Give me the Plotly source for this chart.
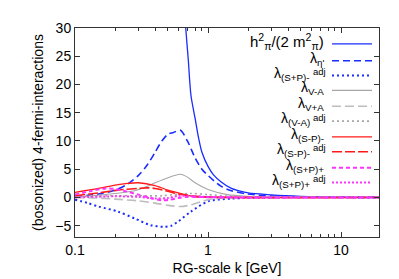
import numpy as np
import plotly.graph_objects as go

# ---- data ----
k_h = [0.6, 0.65, 0.68, 0.71, 0.745, 0.8, 0.85, 0.9, 1.0, 1.1, 1.25, 1.5, 1.7, 2.0, 3.0, 5.0, 10.0, 20.0]
v_h = [50, 37, 30, 24.5, 18, 14, 10.5, 8, 5.5, 4.0, 2.8, 1.6, 1.2, 0.8, 0.45, 0.2, 0.05, 0.02]

k_eta = [0.1, 0.15, 0.2, 0.25, 0.3, 0.35, 0.4, 0.45, 0.5, 0.55, 0.62, 0.7, 0.8, 0.9, 1.0, 1.25, 1.5, 2.0, 3.0, 5.0, 10.0, 20.0]
v_eta = [0.2, 0.6, 1.3, 2.4, 3.9, 5.8, 8.0, 10.0, 11.2, 11.5, 11.9, 10.0, 7.0, 5.0, 3.9, 2.0, 1.2, 0.6, 0.25, 0.1, 0.03, 0.01]

k_spm_adj = [0.1, 0.125, 0.15, 0.21, 0.28, 0.37, 0.47, 0.53, 0.6, 0.745, 1.0, 1.5, 3.0, 20.0]
v_spm_adj = [-0.4, -1.0, -1.6, -2.5, -3.7, -4.9, -5.2, -5.0, -4.2, -2.5, -0.7, -0.2, 0.0, 0.0]

k_vma = [0.1, 0.15, 0.2, 0.28, 0.35, 0.4, 0.5, 0.62, 0.7, 0.8, 1.0, 1.4, 2.0, 3.0, 5.0, 20.0]
v_vma = [0.1, 0.4, 0.7, 1.2, 2.0, 2.6, 3.5, 4.1, 3.6, 2.6, 1.4, 0.5, 0.2, 0.08, 0.03, 0.0]

k_vpa = [0.1, 0.15, 0.2, 0.3, 0.4, 0.5, 0.62, 0.75, 0.9, 1.0, 1.3, 2.0, 20.0]
v_vpa = [0.0, -0.1, -0.3, -0.6, -1.0, -1.4, -1.6, -1.3, -0.7, -0.4, -0.1, 0.0, 0.0]

k_vma_adj = [0.1, 0.2, 0.3, 0.45, 0.6, 0.75, 1.0, 1.5, 3.0, 20.0]
v_vma_adj = [0.2, 0.3, 0.3, 0.3, 0.6, 0.7, 0.5, 0.2, 0.05, 0.0]

k_smp = [0.1, 0.15, 0.2, 0.25, 0.3, 0.4, 0.5, 0.6, 0.7, 0.8, 1.0, 20.0]
v_smp = [0.9, 1.6, 2.2, 2.5, 2.6, 2.1, 1.3, 0.8, 0.4, 0.1, 0.0, 0.0]

k_smp_adj = [0.1, 0.15, 0.21, 0.3, 0.35, 0.4, 0.5, 0.6, 0.75, 1.0, 20.0]
v_smp_adj = [0.3, 0.8, 1.3, 1.6, 1.7, 1.6, 1.1, 0.6, 0.3, 0.1, 0.0]

k_spp = [0.1, 0.13, 0.17, 0.2, 0.25, 0.3, 0.37, 0.45, 0.52, 0.6, 0.7, 1.0, 2.0, 20.0]
v_spp = [0.5, 1.1, 1.6, 1.5, 1.0, 0.5, -0.1, -0.5, -0.4, -0.1, 0.1, 0.05, 0.0, 0.0]

k_spp_adj = [0.1, 0.2, 0.3, 0.4, 0.5, 0.6, 0.8, 1.0, 2.0, 20.0]
v_spp_adj = [0.0, 0.2, 0.1, -0.2, -0.1, 0.3, 0.2, 0.1, 0.0, 0.0]

# legend labels: main part (with subscript) and optional superscript
label_main = [
    "h<sup>2</sup><sub>π</sub>/(2 m<sup>2</sup><sub>π</sub>)",
    "λ<sub>η'</sub>",
    "λ<sub>(S+P)-</sub>",
    "λ<sub>V-A</sub>",
    "λ<sub>V+A</sub>",
    "λ<sub>(V-A)</sub>",
    "λ<sub>(S-P)-</sub>",
    "λ<sub>(S-P)-</sub>",
    "λ<sub>(S+P)+</sub>",
    "λ<sub>(S+P)+</sub>",
]
label_sup = ["", "", "adj", "", "", "adj", "", "adj", "", "adj"]

series = [
    (k_h, v_h), (k_eta, v_eta), (k_spm_adj, v_spm_adj), (k_vma, v_vma), (k_vpa, v_vpa),
    (k_vma_adj, v_vma_adj), (k_smp, v_smp), (k_smp_adj, v_smp_adj), (k_spp, v_spp), (k_spp_adj, v_spp_adj),
]

styles = [
    dict(color="#1a2cff", width=1.3, dash="solid"),
    dict(color="#1a2cff", width=1.6, dash="7px,4px"),
    dict(color="#1a2cff", width=2.0, dash="2px,3px"),
    dict(color="#a6a6a6", width=1.1, dash="solid"),
    dict(color="#bdbdbd", width=1.6, dash="9px,4px"),
    dict(color="#a6a6a6", width=1.6, dash="2px,3px"),
    dict(color="#ff1a1a", width=1.3, dash="solid"),
    dict(color="#ff1a1a", width=1.6, dash="10px,3px"),
    dict(color="#ff33ff", width=2.0, dash="4px,3px"),
    dict(color="#ff33ff", width=2.0, dash="2px,2px"),
]

fig = go.Figure()
for (kx, vy), st in zip(series, styles):
    fig.add_trace(go.Scatter(x=kx, y=vy, mode="lines", line=dict(shape="spline", smoothing=0.8, **st),
                             showlegend=False, hoverinfo="skip"))

FONT = "Liberation Sans, Arial, sans-serif"

# custom gnuplot-style legend: text right-aligned, sample on the right
row_px = [34, 51, 66, 81, 97, 112, 128, 143, 159, 174]
plot_top, plot_h, plot_l, plot_w = 18, 211, 67, 304
text_right_px = 318
sup_w_px = 14
for main, sup, st, ypx in zip(label_main, label_sup, styles, row_px):
    yp = (plot_top + plot_h - ypx) / plot_h
    right = text_right_px - (sup_w_px if sup else 0)
    fig.add_annotation(xref="paper", yref="paper", x=(right - plot_l) / plot_w, y=yp, text=main,
                       showarrow=False, xanchor="right", yanchor="middle", yshift=2,
                       font=dict(family=FONT, size=15 if main.startswith("h") else 14, color="black"))
    if sup:
        fig.add_annotation(xref="paper", yref="paper", x=(right - plot_l - 1) / plot_w, y=yp, text=sup,
                           showarrow=False, xanchor="left", yanchor="middle", yshift=4,
                           font=dict(family=FONT, size=9.5, color="black"))
    fig.add_shape(type="line", xref="paper", yref="paper",
                  x0=(324 - plot_l) / plot_w, x1=(364 - plot_l) / plot_w, y0=yp, y1=yp,
                  line=dict(color=st["color"], width=st["width"], dash=st["dash"]))

decades = [0.1, 1, 10]
minor_vals = [m * d for d in decades for m in range(2, 10) if m * d < 20]

fig.update_layout(
    width=399, height=279,
    margin=dict(l=67, r=28, t=18, b=50),
    paper_bgcolor="white", plot_bgcolor="white",
    font=dict(family=FONT, size=14, color="black"),
    xaxis=dict(
        type="log", range=[-1, np.log10(19.3)],
        tickvals=decades, ticktext=["0.1", "1", "10"],
        ticks="inside", ticklen=5, tickcolor="#333", showgrid=False, zeroline=False,
        showline=True, linecolor="#333", linewidth=1, mirror="allticks",
        minor=dict(tickvals=minor_vals, ticks="inside", ticklen=3, tickcolor="#333", showgrid=False),
        title=dict(text="RG-scale k [GeV]", font=dict(size=14), standoff=6),
        tickfont=dict(size=14),
    ),
    yaxis=dict(
        range=[-7, 30], dtick=5, tick0=0,
        ticks="inside", ticklen=5, tickcolor="#333", showgrid=False, zeroline=False,
        showline=True, linecolor="#333", linewidth=1, mirror="ticks",
        title=dict(text="(bosonized) 4-fermi-interactions", font=dict(size=14), standoff=8),
        tickfont=dict(size=14),
    ),
)

fig.write_html("out.html")
